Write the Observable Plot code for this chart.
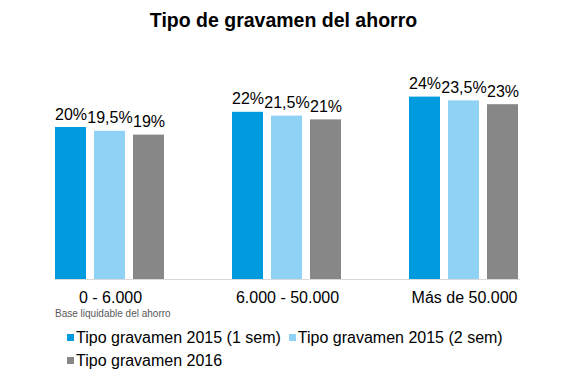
<!DOCTYPE html>
<html>
<head>
<meta charset="utf-8">
<script src="https://cdn.jsdelivr.net/npm/d3@7"></script>
<script src="https://cdn.jsdelivr.net/npm/@observablehq/plot@0.6"></script>
<style>
  html, body { margin: 0; padding: 0; background: #fff; }
  body { width: 567px; height: 378px; position: relative; overflow: hidden;
         font-family: "Liberation Sans", Arial, sans-serif; color: #000; }
  #title { position: absolute; left: 0; top: 9px; width: 567px; text-align: center;
           font-weight: bold; font-size: 19.5px; line-height: 22px; }
  #chart { position: absolute; left: 0; top: 40px; }
  #note { position: absolute; left: 55px; top: 307.5px; font-size: 10px; line-height: 12px; color: #595959; }
  #legend { position: absolute; left: 67px; top: 326px; width: 450px; display: flex; flex-wrap: wrap;
            font-size: 16px; line-height: 23px; }
  .item { display: inline-flex; align-items: center; margin-right: 8px; white-space: nowrap; }
  .sw { width: 7px; height: 7px; margin-right: 2px; display: inline-block; }
</style>
</head>
<body>
<div id="title">Tipo de gravamen del ahorro</div>
<div id="chart"></div>
<div id="note">Base liquidable del ahorro</div>
<div id="legend"></div>
<script>
const categories = ["0 - 6.000", "6.000 - 50.000", "Más de 50.000"];
const series = ["Tipo gravamen 2015 (1 sem)", "Tipo gravamen 2015 (2 sem)", "Tipo gravamen 2016"];
const values2015a = [20, 22, 24];
const values2015b = [19.5, 21.5, 23.5];
const values2016 = [19, 21, 23];
const colors = ["#009bde", "#8fd2f6", "#878787"];

const allValues = [values2015a, values2015b, values2016];
const data = [];
categories.forEach((c, i) => {
  series.forEach((s, j) => {
    data.push({category: c, series: s, value: allValues[j][i]});
  });
});
const fmt = v => String(v).replace(".", ",") + "%";

const chart = Plot.plot({
  width: 567,
  height: 266,
  marginTop: 11,
  marginBottom: 27,
  marginLeft: 20,
  marginRight: 14,
  style: {fontFamily: '"Liberation Sans", Arial, sans-serif', color: "#000", background: "transparent"},
  fx: {domain: categories, paddingInner: 0.38, paddingOuter: 0.19, axis: null},
  x: {domain: series, paddingInner: 0.2, paddingOuter: 0, axis: null},
  y: {domain: [0, 30], axis: null},
  color: {domain: series, range: colors},
  marks: [
    Plot.frame({anchor: "bottom", facet: "super", stroke: "#d9d9d9", strokeWidth: 1}),
    Plot.axisFx({anchor: "bottom", tickSize: 0, tickPadding: 12, fontSize: 16, label: null, fill: "#000"}),
    Plot.barY(data, {fx: "category", x: "series", y: "value", fill: "series"}),
    Plot.text(data, {fx: "category", x: "series", y: "value", text: d => fmt(d.value),
      lineAnchor: "bottom", dy: -8, fontSize: 16, fill: "#000"})
  ]
});
document.getElementById("chart").appendChild(chart);

const legend = document.getElementById("legend");
series.forEach((s, j) => {
  const item = document.createElement("span");
  item.className = "item";
  const sw = document.createElement("span");
  sw.className = "sw";
  sw.style.background = colors[j];
  item.appendChild(sw);
  item.appendChild(document.createTextNode(s));
  legend.appendChild(item);
});
</script>
</body>
</html>
